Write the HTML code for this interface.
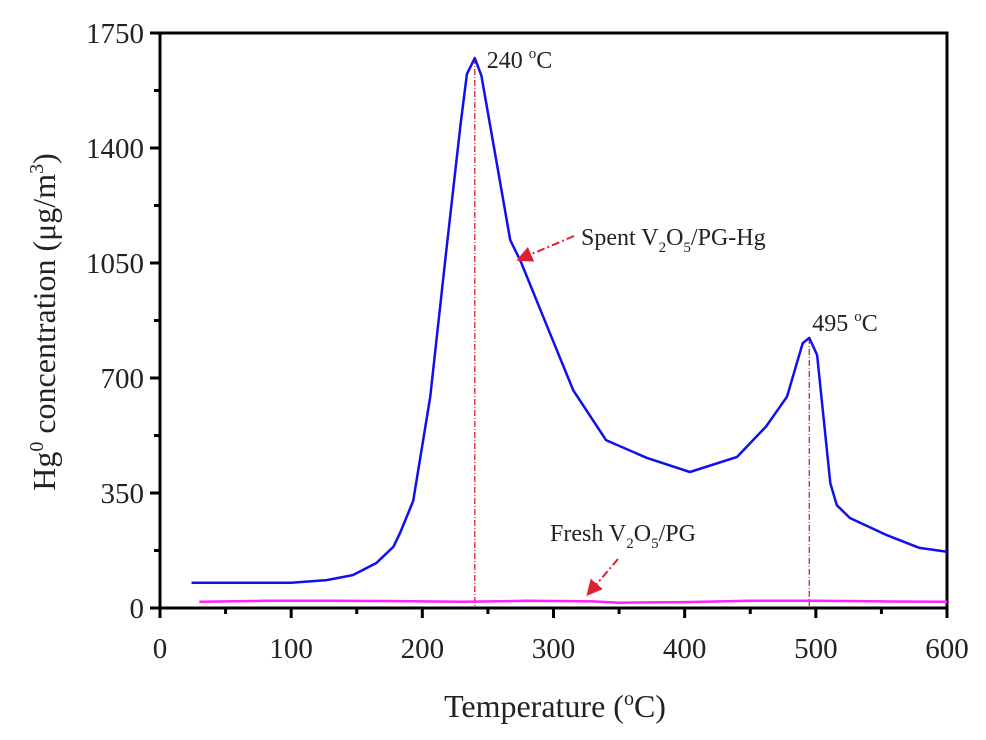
<!DOCTYPE html>
<html><head><meta charset="utf-8">
<style>
html,body{margin:0;padding:0;background:#fff;}
svg text{font-family:"Liberation Serif",serif;fill:#222;}
</style></head>
<body>
<svg id="chart" width="986" height="735" viewBox="0 0 986 735" xmlns="http://www.w3.org/2000/svg">
<g id="axes"></g>
<g id="series"></g>
<g id="annot"></g>
<text transform="translate(55,322) rotate(-90)" text-anchor="middle" font-size="32">Hg<tspan dy="-12" font-size="20">0</tspan><tspan dy="12"> concentration (μg/m</tspan><tspan dy="-12" font-size="20">3</tspan><tspan dy="12">)</tspan></text>
<text x="555" y="717" text-anchor="middle" font-size="32">Temperature (<tspan dy="-12" font-size="20">o</tspan><tspan dy="12">C)</tspan></text>
</svg>
<script>
const xTicks = [0,100,200,300,400,500,600];
const yTicks = [0,350,700,1050,1400,1750];
const spentT = [24,100,127,147,165,178,183,193,206,218,229,234,240,245,257,267,275,295,315,340,371,404,440,462,478,490,495,501,511,516,526,554,579,600];
const spentV = [77,77,85,100,137,187,228,326,642,1077,1468,1625,1674,1620,1348,1120,1055,859,663,511,457,414,460,552,643,806,822,770,380,313,274,222,183,171];
const freshT = [30,80,130,180,230,280,330,350,400,450,500,550,600];
const freshV = [19,22,22,21,19,22,20,16,18,22,22,20,19];
const peakT = [240,495];
const peakV = [1674,822];

const X0=160,X1=947,Y0=608,Y1=33;
const xs=v=>X0+(v-0)/(600-0)*(X1-X0);
const ys=v=>Y0-(v-0)/(1750-0)*(Y0-Y1);
const NS='http://www.w3.org/2000/svg';
function mk(tag,attrs,parent,txt){const e=document.createElementNS(NS,tag);for(const k in attrs)e.setAttribute(k,attrs[k]);if(txt!==undefined)e.textContent=txt;parent.appendChild(e);return e;}
const axes=document.getElementById('axes');
const frame=mk('rect',{x:X0,y:Y1,width:X1-X0,height:Y0-Y1,fill:'none',stroke:'#000','stroke-width':3},axes);


xTicks.forEach((t,i)=>{
  const tk=mk('line',{x1:xs(t),x2:xs(t),y1:Y0,y2:Y0+10,stroke:'#000','stroke-width':3},axes);
  
  
  const lb=mk('text',{x:xs(t),y:Y0+50,'text-anchor':'middle','font-size':29},axes,String(t));
  
  
  if(i<xTicks.length-1){
    const m=(t+xTicks[i+1])/2;
    const mt=mk('line',{x1:xs(m),x2:xs(m),y1:Y0,y2:Y0+6,stroke:'#000','stroke-width':3},axes);
    
    
  }
});
yTicks.forEach((t,i)=>{
  const tk=mk('line',{x1:X0-10,x2:X0,y1:ys(t),y2:ys(t),stroke:'#000','stroke-width':3},axes);
  
  
  const lb=mk('text',{x:X0-16,y:ys(t)+10,'text-anchor':'end','font-size':29},axes,String(t));
  
  
  if(i<yTicks.length-1){
    const m=(t+yTicks[i+1])/2;
    const mt=mk('line',{x1:X0-6,x2:X0,y1:ys(m),y2:ys(m),stroke:'#000','stroke-width':3},axes);
    
    
  }
});
const ser=document.getElementById('series');
function pts(T,V){return T.map((t,i)=>xs(t).toFixed(1)+','+ys(V[i]).toFixed(1)).join(' ');}
peakT.forEach((t,i)=>{
  const d=mk('line',{x1:xs(t),x2:xs(t),y1:ys(peakV[i]),y2:Y0-2,stroke:'#e02030','stroke-width':1.3,'stroke-dasharray':'6,2,1,2'},ser);
  
  
});
const fresh=mk('polyline',{points:pts(freshT,freshV),fill:'none',stroke:'#ff22ff','stroke-width':2.5},ser);


const spent=mk('polyline',{points:pts(spentT,spentV),fill:'none',stroke:'#1010ee','stroke-width':2.5,'stroke-linejoin':'round'},ser);



const an=document.getElementById('annot');
function label(x,y,html,name){const t=mk('text',{x:x,y:y,'font-size':24},an);t.innerHTML=html;return t;}
label(xs(peakT[0])+12,ys(peakV[0])+10,'240 <tspan dy="-10" font-size="15">o</tspan><tspan dy="10">C</tspan>','peak-240-label');
label(xs(peakT[1])+3,ys(peakV[1])-7,'495 <tspan dy="-10" font-size="15">o</tspan><tspan dy="10">C</tspan>','peak-495-label');
label(581,245,'Spent V<tspan dy="7" font-size="15">2</tspan><tspan dy="-7">O</tspan><tspan dy="7" font-size="15">5</tspan><tspan dy="-7">/PG-Hg</tspan>','spent-label');
label(550,541,'Fresh V<tspan dy="7" font-size="15">2</tspan><tspan dy="-7">O</tspan><tspan dy="7" font-size="15">5</tspan><tspan dy="-7">/PG</tspan>','fresh-label');
mk('defs',{},an).innerHTML='<marker id="ah" markerWidth="8" markerHeight="8" refX="6" refY="4" orient="auto"><path d="M0,0 L8,4 L0,8 Z" fill="#e02030"/></marker>';
const a1=mk('line',{x1:574,y1:236,x2:520,y2:259,stroke:'#e02030','stroke-width':2,'stroke-dasharray':'8,3,2,3','marker-end':'url(#ah)'},an);


const a2=mk('line',{x1:618,y1:559,x2:589,y2:593,stroke:'#e02030','stroke-width':2,'stroke-dasharray':'8,3,2,3','marker-end':'url(#ah)'},an);


</script>
</body></html>
